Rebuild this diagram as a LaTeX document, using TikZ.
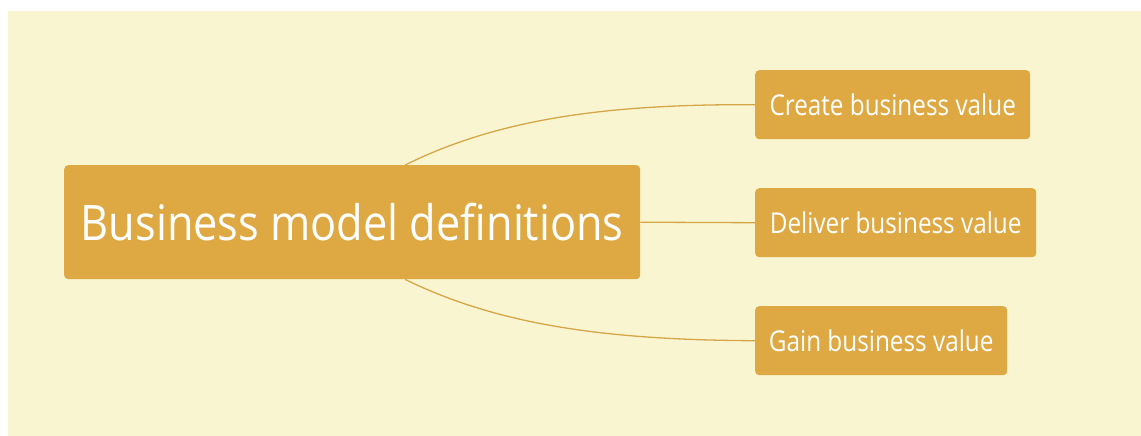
\documentclass[tikz,border=0pt]{standalone}
\usepackage{graphicx}
\usepackage{fontspec}
\setmainfont{Open Sans}
\definecolor{bgc}{RGB}{250,245,209}
\definecolor{boxc}{RGB}{222,169,66}
\definecolor{linec}{RGB}{212,166,72}
\newcommand{\tall}[2]{\scalebox{1}[#1]{#2}}
\begin{document}
\begin{tikzpicture}[x=1pt,y=-1pt,
  topic/.style={fill=boxc,rounded corners=4pt,text=white,inner sep=0pt,anchor=north west},
  subtopic/.style={topic,minimum height=69pt,font=\fontsize{24.3}{26}\selectfont},
  branch/.style={draw=linec,line width=1.3pt}]
\useasboundingbox (0,0) rectangle (1141,436);
\fill[bgc] (8,11) rectangle (1141,436);
\node[topic,minimum width=576pt,minimum height=114pt,font=\fontsize{43.3}{44}\selectfont] (root) at (64,165) {\tall{1.13}{Business model definitions}};
\node[subtopic,minimum width=275pt] (create) at (755,70) {\tall{1.18}{Create business value}};
\node[subtopic,minimum width=281pt] (deliver) at (755,188) {\tall{1.18}{Deliver business value}};
\node[subtopic,minimum width=252pt] (gain) at (755,306) {\tall{1.18}{Gain business value}};
\coordinate (rt) at ([xshift=53pt]root.north);
\coordinate (rb) at ([xshift=53pt]root.south);
\draw[branch] (rt) .. controls (500,118) and (610,104) .. (create.west);
\draw[branch] (root.east) -- (deliver.west);
\draw[branch] (rb) .. controls (500,326) and (610,340) .. (gain.west);
\end{tikzpicture}
\end{document}
